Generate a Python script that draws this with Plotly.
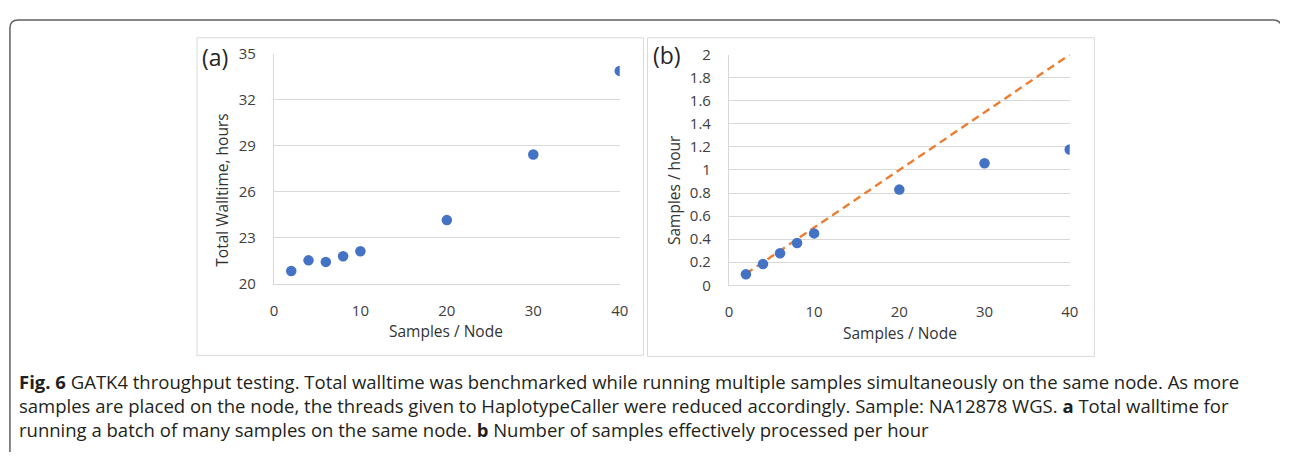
import plotly.graph_objects as go

# ---- data ----
samples_per_node = [2, 4, 6, 8, 10, 20, 30, 40]
walltime_hours = [20.83, 21.52, 21.42, 21.79, 22.12, 24.15, 28.44, 33.9]
samples_per_hour = [0.095, 0.185, 0.278, 0.366, 0.45, 0.83, 1.058, 1.178]
ideal_x = [2, 40]
ideal_y = [0.1, 2.0]

a_ticks = [20, 23, 26, 29, 32, 35]
b_ticks = [0, 0.2, 0.4, 0.6, 0.8, 1, 1.2, 1.4, 1.6, 1.8, 2]
b_ticktext = ["0", "0.2", "0.4", "0.6", "0.8", "1", "1.2", "1.4", "1.6", "1.8", "2"]
x_ticks = [0, 10, 20, 30, 40]

caption_lines = [
    "<b>Fig. 6</b> GATK4 throughput testing. Total walltime was benchmarked while running multiple samples simultaneously on the same node. As more",
    "samples are placed on the node, the threads given to HaplotypeCaller were reduced accordingly. Sample: NA12878 WGS. <b>a</b> Total walltime for",
    "running a batch of many samples on the same node. <b>b</b> Number of samples effectively processed per hour",
]

W, H = 1289, 461
BLUE = "#4472C4"
ORANGE = "#ED7D31"
GRID = "#d9d9d9"
FONT = "Open Sans, sans-serif"
TICKFONT = dict(family=FONT, size=15, color="#404040")
TITLEFONT = dict(family=FONT, size=15.5, color="#333333")

def px_x(p):
    return p / W

def px_y(p):
    return 1 - p / H

fig = go.Figure()

fig.add_trace(go.Scatter(
    x=samples_per_node, y=walltime_hours, mode="markers",
    marker=dict(color=BLUE, size=10.5), xaxis="x", yaxis="y", showlegend=False))

fig.add_trace(go.Scatter(
    x=ideal_x, y=ideal_y, mode="lines",
    line=dict(color=ORANGE, width=2.4, dash="8px,5px"),
    xaxis="x2", yaxis="y2", showlegend=False))

fig.add_trace(go.Scatter(
    x=samples_per_node, y=samples_per_hour, mode="markers",
    marker=dict(color=BLUE, size=10.5), xaxis="x2", yaxis="y2", showlegend=False))

axis_common = dict(showline=True, linecolor=GRID, linewidth=1, ticks="",
                   tickfont=TICKFONT, zeroline=False, fixedrange=True)

fig.update_layout(
    width=W, height=H,
    margin=dict(l=0, r=0, t=0, b=0),
    paper_bgcolor="white", plot_bgcolor="rgba(0,0,0,0)",
    xaxis=dict(domain=[px_x(272.7), px_x(622)], range=[0, 40], tickvals=x_ticks,
               showgrid=False, anchor="y", ticklabelstandoff=13, **axis_common),
    yaxis=dict(domain=[px_y(285), px_y(45)], range=[20, 35], tickvals=a_ticks,
               showgrid=True, gridcolor=GRID, anchor="x", ticklabelstandoff=14, **axis_common),
    xaxis2=dict(domain=[px_x(732.3), px_x(1076.6)], range=[0, 40], tickvals=x_ticks,
                showgrid=False, anchor="y2", ticklabelstandoff=13, **axis_common),
    yaxis2=dict(domain=[px_y(286.7), px_y(45.7)], range=[0, 2], tickvals=b_ticks,
                ticktext=b_ticktext, showgrid=True, gridcolor=GRID, anchor="x2",
                ticklabelstandoff=14, **axis_common),
    xaxis3=dict(domain=[0, 1], range=[0, W], visible=False, anchor="y3", fixedrange=True),
    yaxis3=dict(domain=[0, 1], range=[H, 0], visible=False, anchor="x3", fixedrange=True),
)

shapes = []
# outer rounded border (pixel coordinates via hidden axis)
shapes.append(dict(type="path", xref="x3", yref="y3",
                   path="M 6,475 L 6,18 Q 6,9.5 14.5,9.5 L 1282,9.5 Q 1290.5,9.5 1290.5,18 L 1290.5,475",
                   line=dict(color="#606060", width=1.5), layer="above"))
# panel frames
shapes.append(dict(type="rect", xref="x3", yref="y3", x0=195, x1=646, y0=28, y1=360,
                   line=dict(color="#d9d9d9", width=1), layer="above"))
shapes.append(dict(type="rect", xref="x3", yref="y3", x0=650, x1=1101.5, y0=28, y1=361,
                   line=dict(color="#d9d9d9", width=1), layer="above"))
fig.update_layout(shapes=shapes)

ann = []
ann.append(dict(text="(a)", x=212.7, y=48.5, xref="x3", yref="y3", showarrow=False,
                font=dict(family=FONT, size=23, color="#262626"),
                xanchor="center", yanchor="middle"))
ann.append(dict(text="(b)", x=670, y=46, xref="x3", yref="y3", showarrow=False,
                font=dict(family=FONT, size=23, color="#262626"),
                xanchor="center", yanchor="middle"))
ann.append(dict(text="Total Walltime, hours", x=220, y=187, xref="x3", yref="y3",
                showarrow=False, textangle=-90, font=TITLEFONT,
                xanchor="center", yanchor="middle"))
ann.append(dict(text="Samples / Node", x=447, y=335, xref="x3", yref="y3",
                showarrow=False, font=TITLEFONT, xanchor="center", yanchor="middle"))
ann.append(dict(text="Samples / hour", x=677, y=187, xref="x3", yref="y3",
                showarrow=False, textangle=-90, font=TITLEFONT,
                xanchor="center", yanchor="middle"))
ann.append(dict(text="Samples / Node", x=905, y=336.5, xref="x3", yref="y3",
                showarrow=False, font=TITLEFONT, xanchor="center", yanchor="middle"))
ann.append(dict(text="<br>".join(caption_lines), x=13, y=372, xref="x3", yref="y3",
                showarrow=False, xanchor="left", yanchor="top", align="left",
                font=dict(family=FONT, size=18.5, color="#231f20")))
fig.update_layout(annotations=ann)

fig.write_html("out.html", config={"displayModeBar": False},
               post_script="document.body.style.margin='0';document.body.style.overflow='hidden';")
